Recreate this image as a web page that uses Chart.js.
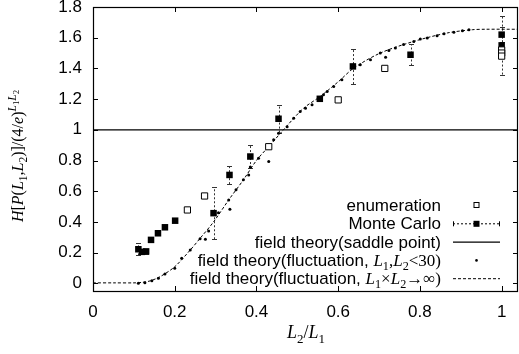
<!DOCTYPE html>
<html>
<head>
<meta charset="utf-8">
<script src="https://cdn.jsdelivr.net/npm/chart.js@4/dist/chart.umd.min.js"></script>
<style>
  html, body { margin: 0; padding: 0; background: #fff; }
  #wrap { width: 519px; height: 354px; }
</style>
</head>
<body>
<div id="wrap"><canvas id="c"></canvas></div>
<script>
/* H[P(L1,L2)]/(4/e)^(L1L2) versus L2/L1 */

var xTicks = [0, 0.2, 0.4, 0.6, 0.8, 1];
var yTicks = [0, 0.2, 0.4, 0.6, 0.8, 1, 1.2, 1.4, 1.6, 1.8];

var enumX = [0.231, 0.273, 0.43, 0.60, 0.714, 1.0, 1.0, 1.0];
var enumY = [0.478, 0.569, 0.89, 1.195, 1.40, 1.52, 1.50, 1.48];

var mcX = [0.111, 0.12, 0.13, 0.142, 0.159, 0.176, 0.201, 0.295, 0.334, 0.385, 0.454, 0.555, 0.636, 0.777, 1.0, 1.0];
var mcY = [0.222, 0.205, 0.208, 0.283, 0.326, 0.365, 0.408, 0.457, 0.706, 0.826, 1.072, 1.202, 1.413, 1.489, 1.62, 1.55];
var mcErr = [0.04, 0.015, 0.015, 0.01, 0.01, 0.01, 0.01, 0.17, 0.06, 0.075, 0.09, 0.01, 0.115, 0.07, 0.05, 0.19];

var saddleX = [0, 1.04];
var saddleY = [1, 1];

var flucX = [0.111, 0.127, 0.144, 0.16, 0.176, 0.2, 0.217, 0.238, 0.262, 0.275, 0.283, 0.307, 0.332, 0.335, 0.35,
  0.368, 0.381, 0.385, 0.405, 0.43, 0.442, 0.454, 0.475, 0.491, 0.507, 0.52, 0.536, 0.564, 0.573, 0.589, 0.609,
  0.654, 0.679, 0.703, 0.716, 0.724, 0.74, 0.76, 0.785, 0.801, 0.818, 0.842, 0.859, 0.883, 0.904, 0.92];
var flucY = [0.0, 0.004, 0.017, 0.033, 0.061, 0.098, 0.163, 0.217, 0.29, 0.287, 0.341, 0.46, 0.543, 0.483, 0.61,
  0.674, 0.706, 0.757, 0.815, 0.793, 0.935, 0.978, 1.02, 1.076, 1.12, 1.14, 1.163, 1.228, 1.25, 1.282, 1.326,
  1.424, 1.457, 1.50, 1.472, 1.517, 1.533, 1.555, 1.576, 1.592, 1.598, 1.613, 1.626, 1.635, 1.646, 1.652];

var infX = [0, 0.05, 0.1, 0.12, 0.14, 0.164, 0.2, 0.238, 0.262, 0.295, 0.332, 0.368, 0.401, 0.435, 0.466,
  0.515, 0.556, 0.601, 0.638, 0.703, 0.785, 0.867, 0.928, 0.96, 1.04];
var infY = [0.003, 0.003, 0.003, 0.006, 0.016, 0.043, 0.108, 0.217, 0.293, 0.40, 0.543, 0.674, 0.804, 0.905, 1.0,
  1.14, 1.217, 1.315, 1.402, 1.50, 1.576, 1.631, 1.652, 1.655, 1.655];

function pts(xs, ys) {
  return xs.map(function (x, i) { return { x: x, y: ys[i] }; });
}

var SANS = '"Liberation Sans", Arial, sans-serif';
var SERIF = '"Liberation Serif", "Times New Roman", serif';
var FS = 17;

// rich text: parts {t, it, sans, lvl} lvl 0 normal, 1 sub, 2 sup, 3 sub of sup
function partFont(p, size) {
  var s = [size, size * 0.72, size * 0.72, size * 0.55][p.lvl || 0];
  var fam = p.sans ? SANS : SERIF;
  return { font: (p.it ? 'italic ' : '') + s.toFixed(1) + 'px ' + fam, dy: [0, size * 0.25, -size * 0.42, -size * 0.25][p.lvl || 0] };
}
function richWidth(ctx, parts, size) {
  var w = 0;
  parts.forEach(function (p) { ctx.font = partFont(p, size).font; w += ctx.measureText(p.t).width; });
  return w;
}
function drawRich(ctx, parts, x, y, size) {
  ctx.textBaseline = 'alphabetic';
  ctx.textAlign = 'left';
  parts.forEach(function (p) {
    var f = partFont(p, size);
    ctx.font = f.font;
    ctx.fillText(p.t, x, y + f.dy);
    x += ctx.measureText(p.t).width;
  });
}

var yTitle = [
  { t: 'H', it: 1 }, { t: '[' }, { t: 'P', it: 1 }, { t: '(' }, { t: 'L', it: 1 }, { t: '1', lvl: 1 },
  { t: ',' }, { t: 'L', it: 1 }, { t: '2', lvl: 1 }, { t: ')]/(4/' }, { t: 'e', it: 1 }, { t: ')' },
  { t: 'L', it: 1, lvl: 2 }, { t: '1', lvl: 3 }, { t: 'L', it: 1, lvl: 2 }, { t: '2', lvl: 3 }
];
var xTitle = [{ t: 'L', it: 1 }, { t: '2', lvl: 1 }, { t: '/' }, { t: 'L', it: 1 }, { t: '1', lvl: 1 }];

var legendRows = [
  { kind: 'enum', parts: [{ t: 'enumeration', sans: 1 }] },
  { kind: 'mc', parts: [{ t: 'Monte Carlo', sans: 1 }] },
  { kind: 'solid', parts: [{ t: 'field theory(saddle point)', sans: 1 }] },
  { kind: 'dot', parts: [{ t: 'field theory(fluctuation, ', sans: 1 }, { t: 'L', it: 1 }, { t: '1', lvl: 1 }, { t: ',' },
    { t: 'L', it: 1 }, { t: '2', lvl: 1 }, { t: '<30)' }] },
  { kind: 'dash', parts: [{ t: 'field theory(fluctuation, ', sans: 1 }, { t: 'L', it: 1 }, { t: '1', lvl: 1 }, { t: '\u00d7' },
    { t: 'L', it: 1 }, { t: '2', lvl: 1 }, { t: '\u2192\u221e)' }] }
];

var decor = {
  id: 'decor',
  beforeDatasetsDraw: function (chart) {
    var ctx = chart.ctx, xs = chart.scales.x, ys = chart.scales.y;
    ctx.save();
    ctx.strokeStyle = '#333';
    ctx.lineWidth = 1;
    ctx.setLineDash([2, 2]);
    mcX.forEach(function (x, i) {
      var px = Math.round(xs.getPixelForValue(x)) + 0.5;
      var y1 = ys.getPixelForValue(mcY[i] - mcErr[i]);
      var y2 = ys.getPixelForValue(mcY[i] + mcErr[i]);
      ctx.beginPath();
      ctx.moveTo(px, y1); ctx.lineTo(px, y2);
      ctx.stroke();
    });
    ctx.setLineDash([]);
    mcX.forEach(function (x, i) {
      var px = Math.round(xs.getPixelForValue(x)) + 0.5;
      [mcY[i] - mcErr[i], mcY[i] + mcErr[i]].forEach(function (v) {
        var py = Math.round(ys.getPixelForValue(v)) + 0.5;
        ctx.beginPath();
        ctx.moveTo(px - 2.5, py); ctx.lineTo(px + 2.5, py);
        ctx.stroke();
      });
    });
    ctx.restore();
  },
  afterDraw: function (chart) {
    var ctx = chart.ctx, a = chart.chartArea, xs = chart.scales.x, ys = chart.scales.y;
    ctx.save();
    ctx.strokeStyle = '#000';
    ctx.lineWidth = 1.2;
    ctx.strokeRect(Math.round(a.left) + 0.5, Math.round(a.top) + 0.5, Math.round(a.right - a.left) - 1, Math.round(a.bottom - a.top));
    ctx.lineWidth = 1;
    xTicks.forEach(function (v) {
      var px = Math.round(xs.getPixelForValue(v)) + 0.5;
      ctx.beginPath();
      ctx.moveTo(px, a.bottom); ctx.lineTo(px, a.bottom - 5);
      ctx.moveTo(px, a.top); ctx.lineTo(px, a.top + 5);
      ctx.stroke();
    });
    yTicks.forEach(function (v) {
      var py = Math.round(ys.getPixelForValue(v)) + 0.5;
      ctx.beginPath();
      ctx.moveTo(a.left, py); ctx.lineTo(a.left + 5, py);
      ctx.moveTo(a.right, py); ctx.lineTo(a.right - 5, py);
      ctx.stroke();
    });

    // legend
    ctx.fillStyle = '#000';
    var textRight = 441, s0 = 453, s1 = 500, sm = 476.5, rowY = 205, rowH = 18.3;
    legendRows.forEach(function (r, i) {
      var cy = rowY + i * rowH;
      var w = richWidth(ctx, r.parts, FS);
      drawRich(ctx, r.parts, textRight - w, cy + 6, FS);
      ctx.strokeStyle = '#000';
      ctx.lineWidth = 1;
      if (r.kind === 'enum') {
        ctx.strokeRect(sm - 2.5, cy - 2.5, 5, 5);
      } else if (r.kind === 'mc') {
        ctx.setLineDash([2, 2]);
        ctx.beginPath(); ctx.moveTo(s0, cy + 0.5); ctx.lineTo(s1, cy + 0.5); ctx.stroke();
        ctx.setLineDash([]);
        ctx.beginPath();
        ctx.moveTo(s0 + 0.5, cy - 2); ctx.lineTo(s0 + 0.5, cy + 3);
        ctx.moveTo(s1 - 0.5, cy - 2); ctx.lineTo(s1 - 0.5, cy + 3);
        ctx.stroke();
        ctx.fillRect(sm - 3, cy - 2.5, 6, 6);
      } else if (r.kind === 'solid') {
        ctx.lineWidth = 1.3;
        ctx.beginPath(); ctx.moveTo(s0, cy + 0.5); ctx.lineTo(s1, cy + 0.5); ctx.stroke();
      } else if (r.kind === 'dot') {
        ctx.beginPath(); ctx.arc(sm, cy + 0.5, 1.3, 0, Math.PI * 2); ctx.fill();
      } else {
        ctx.setLineDash([3, 2]);
        ctx.beginPath(); ctx.moveTo(s0, cy + 0.5); ctx.lineTo(s1, cy + 0.5); ctx.stroke();
        ctx.setLineDash([]);
      }
    });

    // axis titles
    var tw = richWidth(ctx, xTitle, 18);
    drawRich(ctx, xTitle, 306 - tw / 2, 338, 18);
    ctx.translate(23, 156);
    ctx.rotate(-Math.PI / 2);
    var yw = richWidth(ctx, yTitle, 16);
    drawRich(ctx, yTitle, -yw / 2, 0, 16);
    ctx.restore();
  }
};

new Chart(document.getElementById('c'), {
  type: 'scatter',
  data: {
    datasets: [
      {
        label: 'enumeration',
        data: pts(enumX, enumY),
        pointStyle: 'rect',
        pointRadius: 4.4,
        backgroundColor: '#fff',
        borderColor: '#000',
        borderWidth: 1,
        order: 0
      },
      {
        label: 'Monte Carlo',
        data: pts(mcX, mcY),
        pointStyle: 'rect',
        pointRadius: 4.6,
        backgroundColor: '#000',
        borderColor: '#000',
        borderWidth: 0,
        order: 1
      },
      {
        label: 'field theory(saddle point)',
        data: pts(saddleX, saddleY),
        showLine: true,
        pointRadius: 0,
        borderColor: '#000',
        borderWidth: 1.3,
        order: 2
      },
      {
        label: 'field theory(fluctuation, L1,L2<30)',
        data: pts(flucX, flucY),
        pointRadius: 1.5,
        backgroundColor: '#000',
        borderColor: '#000',
        borderWidth: 0,
        order: 3
      },
      {
        label: 'field theory(fluctuation, L1xL2->inf)',
        data: pts(infX, infY),
        showLine: true,
        pointRadius: 0,
        borderColor: '#000',
        borderWidth: 1,
        borderDash: [3, 2],
        tension: 0.3,
        order: 4
      }
    ]
  },
  options: {
    responsive: true,
    maintainAspectRatio: false,
    animation: false,
    layout: { autoPadding: false, padding: { left: 0, right: 1, top: 7, bottom: 0 } },
    plugins: { legend: { display: false }, tooltip: { enabled: false } },
    scales: {
      x: {
        type: 'linear',
        min: 0,
        max: 1.04,
        grid: { display: false, drawTicks: false },
        border: { display: false },
        afterBuildTicks: function (s) { s.ticks = xTicks.map(function (v) { return { value: v }; }); },
        afterFit: function (s) { s.height = 63; s.paddingLeft = 0; s.paddingRight = 0; },
        ticks: {
          color: '#000',
          padding: 11,
          font: { family: SANS, size: FS },
          callback: function (v) { return String(v); }
        }
      },
      y: {
        type: 'linear',
        min: -0.05,
        max: 1.8,
        grid: { display: false, drawTicks: false },
        border: { display: false },
        afterBuildTicks: function (s) { s.ticks = yTicks.map(function (v) { return { value: v }; }); },
        afterFit: function (s) { s.width = 93; s.paddingTop = 0; s.paddingBottom = 0; },
        ticks: {
          color: '#000',
          padding: 11,
          font: { family: SANS, size: FS },
          callback: function (v) { return String(v); }
        }
      }
    }
  },
  plugins: [decor]
});
</script>
</body>
</html>
